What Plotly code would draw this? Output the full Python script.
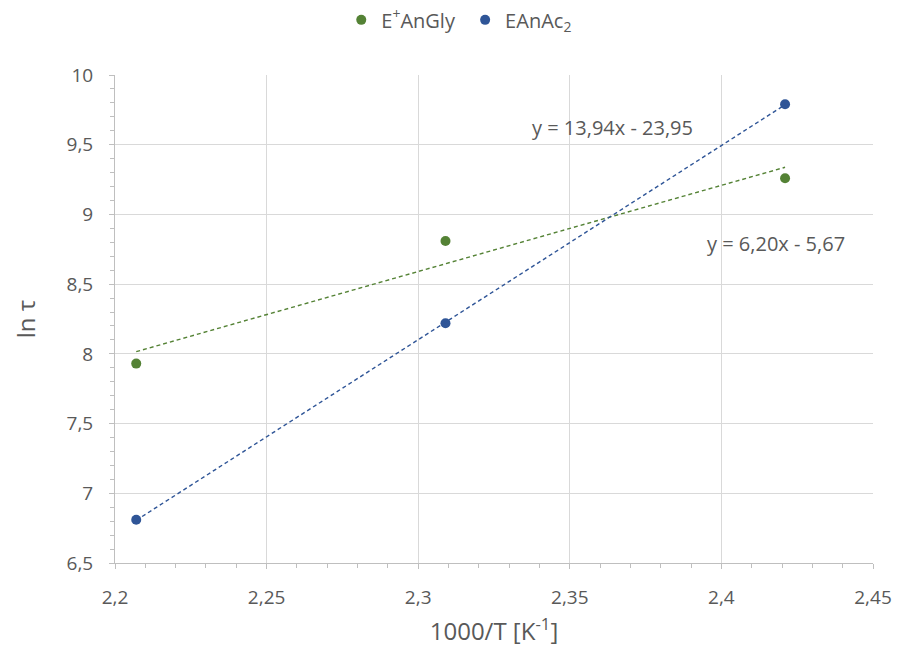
import numpy as np
import plotly.graph_objects as go

x_vals = [2.207, 2.309, 2.421]
green_y = [7.93, 8.81, 9.26]
blue_y = [6.81, 8.22, 9.79]
series_names = ["E<sup>+</sup>AnGly\u00a0", "EAnAc<sub>2</sub>"]
eq_texts = ["y = 6,20x - 5,67", "y = 13,94x - 23,95"]
eq_pos_x = [2.418, 2.364]
eq_pos_y = [8.79, 9.627]

green = "#548235"
blue = "#2F5597"
font_fam = "Open Sans, Liberation Sans, sans-serif"
grey = "#595959"

fig = go.Figure()
for ys, name, col in [(green_y, series_names[0], green), (blue_y, series_names[1], blue)]:
    fig.add_trace(go.Scatter(x=x_vals, y=ys, mode="markers", name=name,
                             marker=dict(color=col, size=10)))
for ys, col in [(green_y, green), (blue_y, blue)]:
    m, b = np.polyfit(x_vals, ys, 1)
    xs = [min(x_vals), max(x_vals)]
    fig.add_trace(go.Scatter(x=xs, y=[m * v + b for v in xs], mode="lines",
                             line=dict(color=col, width=1.4, dash="4px,3px"),
                             showlegend=False, hoverinfo="skip"))

for t, ax_, ay_ in zip(eq_texts, eq_pos_x, eq_pos_y):
    fig.add_annotation(x=ax_, y=ay_, text=t, showarrow=False,
                       font=dict(family=font_fam, size=20, color=grey))

axis_common = dict(showgrid=True, gridcolor="#d9d9d9", gridwidth=1,
                   zeroline=False, showline=True, linecolor="#bfbfbf", linewidth=1,
                   ticks="outside", ticklen=5, tickcolor="#bfbfbf",
                   tickfont=dict(size=19, color=grey))

fig.update_layout(
    width=897, height=654,
    margin=dict(l=115, r=24, t=75, b=91, autoexpand=False),
    paper_bgcolor="white", plot_bgcolor="white",
    separators=", ",
    font=dict(family=font_fam, color=grey, size=18),
    legend=dict(orientation="h", xref="container", x=0.512, xanchor="center",
                y=1.113, yanchor="middle",
                font=dict(size=20, color=grey), itemwidth=30),
    xaxis=dict(range=[2.2, 2.45], dtick=0.05, tickformat=".2~f",
               minor=dict(dtick=0.01, ticks="outside", ticklen=4, tickcolor="#bfbfbf", showgrid=False),
               ticklabelstandoff=12,
               title=dict(text="1000/T [K<sup>-1</sup>]", font=dict(size=24, color=grey), standoff=14),
               **axis_common),
    yaxis=dict(range=[6.5, 10], dtick=0.5, tickformat=".1~f",
               minor=dict(dtick=0.1, ticks="outside", ticklen=4, tickcolor="#bfbfbf", showgrid=False),
               ticklabelstandoff=12,
               title=dict(text="ln τ", font=dict(size=24, color=grey), standoff=24),
               **axis_common),
)

fig.write_html("out.html")
